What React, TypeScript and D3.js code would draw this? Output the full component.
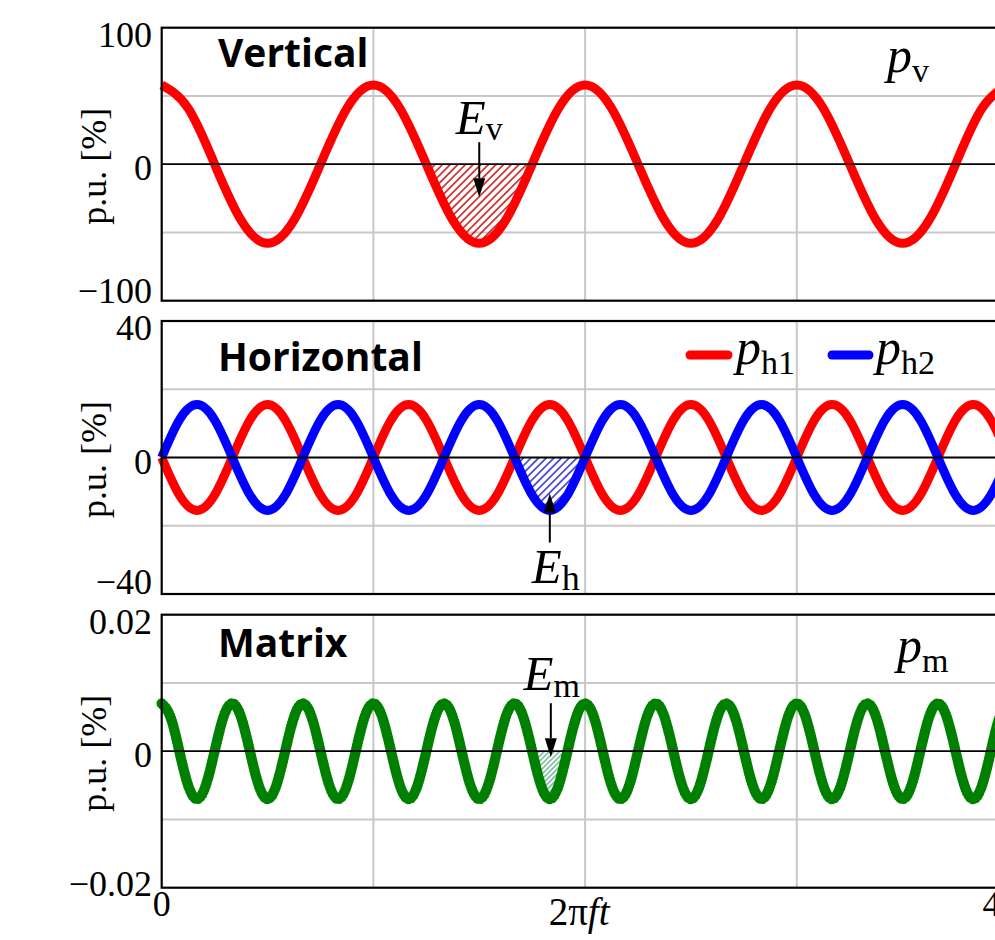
import React from 'react';
import * as d3 from 'd3';

// ---------- data ----------
// x axis: 2πft from 0 to 4π; samples every step·π
const X_MAX_PI = 4;
const xGridPi = [1, 2, 3];
const xTickLabels = ['0', '4π'];
const xTitle = '2πft';

// Vertical panel: p_v, sampled every π/8
const verticalStepPi = 1 / 8;
const verticalPv = [
  58, 41, 0, -41, -58, -41, 0, 41,
  58, 41, 0, -41, -58, -41, 0, 41,
  58, 41, 0, -41, -58, -41, 0, 41,
  58, 41, 0, -41, -58, -41, 0, 41,
  58,
];
const verticalTicks = [100, 0, -100];
const verticalTickLabels = ['100', '0', '−100'];
const verticalGrid = [50, -50];
const verticalLobePi = [1.25, 1.75];

// Horizontal panel: p_h1, p_h2, sampled every π/12
const horizontalStepPi = 1 / 12;
const horizontalPh1 = [
  0, -11, -15.5, -11, 0, 11, 15.5, 11,
  0, -11, -15.5, -11, 0, 11, 15.5, 11,
  0, -11, -15.5, -11, 0, 11, 15.5, 11,
  0, -11, -15.5, -11, 0, 11, 15.5, 11,
  0, -11, -15.5, -11, 0, 11, 15.5, 11,
  0, -11, -15.5, -11, 0, 11, 15.5, 11,
  0,
];
const horizontalPh2 = [
  0, 11, 15.5, 11, 0, -11, -15.5, -11,
  0, 11, 15.5, 11, 0, -11, -15.5, -11,
  0, 11, 15.5, 11, 0, -11, -15.5, -11,
  0, 11, 15.5, 11, 0, -11, -15.5, -11,
  0, 11, 15.5, 11, 0, -11, -15.5, -11,
  0, 11, 15.5, 11, 0, -11, -15.5, -11,
  0,
];
const horizontalTicks = [40, 0, -40];
const horizontalTickLabels = ['40', '0', '−40'];
const horizontalGrid = [20, -20];
const horizontalLobePi = [5 / 3, 2];

// Matrix panel: p_m, sampled every π/24
const matrixStepPi = 1 / 24;
const matrixPm = [
  0.007, 0.005, 0, -0.005, -0.007, -0.005, 0, 0.005,
  0.007, 0.005, 0, -0.005, -0.007, -0.005, 0, 0.005,
  0.007, 0.005, 0, -0.005, -0.007, -0.005, 0, 0.005,
  0.007, 0.005, 0, -0.005, -0.007, -0.005, 0, 0.005,
  0.007, 0.005, 0, -0.005, -0.007, -0.005, 0, 0.005,
  0.007, 0.005, 0, -0.005, -0.007, -0.005, 0, 0.005,
  0.007, 0.005, 0, -0.005, -0.007, -0.005, 0, 0.005,
  0.007, 0.005, 0, -0.005, -0.007, -0.005, 0, 0.005,
  0.007, 0.005, 0, -0.005, -0.007, -0.005, 0, 0.005,
  0.007, 0.005, 0, -0.005, -0.007, -0.005, 0, 0.005,
  0.007, 0.005, 0, -0.005, -0.007, -0.005, 0, 0.005,
  0.007, 0.005, 0, -0.005, -0.007, -0.005, 0, 0.005,
  0.007,
];
const matrixTicks = [0.02, 0, -0.02];
const matrixTickLabels = ['0.02', '0', '−0.02'];
const matrixGrid = [0.01, -0.01];
const matrixLobePi = [1.75, 1.75 + 1 / 6];

// ---------- layout ----------
const W = 995;
const H = 940;
const X_LEFT = 161.7;
const X_RIGHT = 1008.5;
const PANEL_H = 273;
const PANEL_TOPS = [27.7, 321, 614.7];
const SERIF = '"Liberation Serif", "Times New Roman", Times, serif';
const SANS = '"Open Sans", Lato, Arial, sans-serif';
const RED = '#ff0000';
const BLUE = '#0000ff';
const GREEN = '#008000';
const TICK_FS = 36;
const LINE_W = 9;

const xScale = d3.scaleLinear().domain([0, X_MAX_PI * Math.PI]).range([X_LEFT, X_RIGHT]);

function Arrow({ x, from, tip }: { x: number; from: number; tip: number }) {
  const dir = tip > from ? 1 : -1;
  const headLen = 19;
  const headW = 6;
  const base = tip - dir * headLen;
  return (
    <g>
      <line x1={x} x2={x} y1={from} y2={base} stroke="#000" strokeWidth={2} />
      <path d={`M${x},${tip} L${x - headW},${base} L${x + headW},${base} Z`} fill="#000" />
    </g>
  );
}

type PanelProps = {
  idx: number;
  domain: [number, number];
  ticks: number[];
  tickLabels: string[];
  grid: number[];
  title: string;
  titleDy: number;
  bottomLabelDy: number;
  render: (y: d3.ScaleLinear<number, number>, top: number, bottom: number) => React.ReactNode;
};

function Panel({ idx, domain, ticks, tickLabels, grid, title, titleDy, bottomLabelDy, render }: PanelProps) {
  const top = PANEL_TOPS[idx];
  const bottom = top + PANEL_H;
  const y = d3.scaleLinear().domain(domain).range([bottom, top]);
  const y0 = y(0);
  return (
    <g>
      {xGridPi.map((g) => (
        <line key={'vx' + g} x1={xScale(g * Math.PI)} x2={xScale(g * Math.PI)} y1={top} y2={bottom} stroke="#c8c8c8" strokeWidth={2} />
      ))}
      {grid.map((g) => (
        <line key={'hy' + g} x1={X_LEFT} x2={X_RIGHT} y1={y(g)} y2={y(g)} stroke="#c8c8c8" strokeWidth={2} />
      ))}
      {render(y, top, bottom)}
      <line x1={X_LEFT} x2={X_RIGHT} y1={y0} y2={y0} stroke="#000" strokeWidth={1.8} />
      <rect x={X_LEFT} y={top} width={X_RIGHT - X_LEFT} height={PANEL_H} fill="none" stroke="#000" strokeWidth={2.2} />
      {ticks.map((t, i) => {
        let by = y(t) + 16;
        if (i === 0) by = top + 19;
        if (i === ticks.length - 1) by = bottom + bottomLabelDy;
        return (
          <text key={'t' + i} x={152} y={by} textAnchor="end" fontFamily={SERIF} fontSize={TICK_FS} fill="#000">
            {tickLabels[i]}
          </text>
        );
      })}
      <text
        transform={`translate(106,${y0 + 2}) rotate(-90)`}
        textAnchor="middle"
        fontFamily={SERIF}
        fontSize={36}
        fill="#000"
      >
        p.u. [%]
      </text>
      <text x={218} y={top + titleDy} fontFamily={SANS} fontWeight={700} fontSize={39} fill="#000">
        {title}
      </text>
    </g>
  );
}

function seriesLine(step: number, y: d3.ScaleLinear<number, number>) {
  return d3
    .line<number>()
    .x((_, i) => xScale(i * step * Math.PI))
    .y((d) => y(d))
    .curve(d3.curveNatural);
}

function seriesArea(step: number, y: d3.ScaleLinear<number, number>) {
  return d3
    .area<number>()
    .x((_, i) => xScale(i * step * Math.PI))
    .y0(y(0))
    .y1((d) => y(d))
    .curve(d3.curveNatural);
}

function Sub({ main, sub, dy, mainSize = 49, subSize = 34 }: { main: string; sub: string; dy: number; mainSize?: number; subSize?: number }) {
  return (
    <>
      <tspan fontStyle="italic" fontSize={mainSize}>{main}</tspan>
      <tspan fontSize={subSize} dy={dy}>{sub}</tspan>
    </>
  );
}

export default function App() {
  return (
    <div style={{ position: 'absolute', left: 0, top: 0 }}>
      <svg width={W} height={H} viewBox={`0 0 ${W} ${H}`} style={{ display: 'block', background: '#fff' }}>
        <defs>
          <pattern id="hatchV" patternUnits="userSpaceOnUse" width={5.4} height={5.4} patternTransform="rotate(45)">
            <line x1={2.7} x2={2.7} y1={0} y2={5.4} stroke="#c00000" strokeWidth={1.4} />
          </pattern>
          <pattern id="hatchH" patternUnits="userSpaceOnUse" width={5.4} height={5.4} patternTransform="rotate(45)">
            <line x1={2.7} x2={2.7} y1={0} y2={5.4} stroke="#1c1cc8" strokeWidth={1.4} />
          </pattern>
          <pattern id="hatchM" patternUnits="userSpaceOnUse" width={3.6} height={3.6} patternTransform="rotate(45)">
            <line x1={1.8} x2={1.8} y1={0} y2={3.6} stroke="#3a9a6a" strokeWidth={1.1} />
          </pattern>
          {[verticalLobePi, horizontalLobePi, matrixLobePi].map((lobe, i) => (
            <clipPath key={i} id={'lobe' + i}>
              <rect
                x={xScale(lobe[0] * Math.PI)}
                y={PANEL_TOPS[i]}
                width={xScale(lobe[1] * Math.PI) - xScale(lobe[0] * Math.PI)}
                height={PANEL_H}
              />
            </clipPath>
          ))}
        </defs>

        <Panel
          idx={0}
          domain={[-100, 100]}
          ticks={verticalTicks}
          tickLabels={verticalTickLabels}
          grid={verticalGrid}
          title="Vertical"
          titleDy={39}
          bottomLabelDy={2}
          render={(y, top) => {
            const cx = xScale(((verticalLobePi[0] + verticalLobePi[1]) / 2) * Math.PI);
            return (
              <g>
                <path d={seriesArea(verticalStepPi, y)(verticalPv) || ''} fill="url(#hatchV)" clipPath="url(#lobe0)" />
                <path d={seriesLine(verticalStepPi, y)(verticalPv) || ''} fill="none" stroke={RED} strokeWidth={LINE_W} />
                <Arrow x={cx} from={y(0) - 22} tip={y(0) + 33} />
                <text x={cx} y={y(0) - 30} textAnchor="middle" fontFamily={SERIF} fill="#000">
                  <Sub main="E" sub="v" dy={6} />
                </text>
                <text x={887} y={top + 44} fontFamily={SERIF} fill="#000">
                  <Sub main="p" sub="v" dy={10} mainSize={50} />
                </text>
              </g>
            );
          }}
        />

        <Panel
          idx={1}
          domain={[-40, 40]}
          ticks={horizontalTicks}
          tickLabels={horizontalTickLabels}
          grid={horizontalGrid}
          title="Horizontal"
          titleDy={50}
          bottomLabelDy={0}
          render={(y, top) => {
            const cx = xScale(((horizontalLobePi[0] + horizontalLobePi[1]) / 2) * Math.PI);
            return (
              <g>
                <path d={seriesArea(horizontalStepPi, y)(horizontalPh2) || ''} fill="url(#hatchH)" clipPath="url(#lobe1)" />
                <path d={seriesLine(horizontalStepPi, y)(horizontalPh1) || ''} fill="none" stroke={RED} strokeWidth={LINE_W} />
                <path d={seriesLine(horizontalStepPi, y)(horizontalPh2) || ''} fill="none" stroke={BLUE} strokeWidth={LINE_W} />
                <Arrow x={cx} from={y(0) + 85} tip={y(0) + 36} />
                <text x={cx + 6} y={y(0) + 125.5} textAnchor="middle" fontFamily={SERIF} fill="#000">
                  <Sub main="E" sub="h" dy={7} subSize={36} />
                </text>
                <line x1={690} x2={728} y1={top + 34} y2={top + 34} stroke={RED} strokeWidth={LINE_W} strokeLinecap="round" />
                <text x={736} y={top + 43} fontFamily={SERIF} fill="#000">
                  <Sub main="p" sub="h1" dy={10} mainSize={50} />
                </text>
                <line x1={832} x2={869} y1={top + 34} y2={top + 34} stroke={BLUE} strokeWidth={LINE_W} strokeLinecap="round" />
                <text x={876} y={top + 43} fontFamily={SERIF} fill="#000">
                  <Sub main="p" sub="h2" dy={10} mainSize={50} />
                </text>
              </g>
            );
          }}
        />

        <Panel
          idx={2}
          domain={[-0.02, 0.02]}
          ticks={matrixTicks}
          tickLabels={matrixTickLabels}
          grid={matrixGrid}
          title="Matrix"
          titleDy={42.6}
          bottomLabelDy={8}
          render={(y, top) => {
            const cx = xScale(((matrixLobePi[0] + matrixLobePi[1]) / 2) * Math.PI);
            const d = seriesLine(matrixStepPi, y)(matrixPm) || '';
            return (
              <g>
                <path d={seriesArea(matrixStepPi, y)(matrixPm) || ''} fill="url(#hatchM)" clipPath="url(#lobe2)" />
                <path d={d} fill="none" stroke={GREEN} strokeWidth={8} />
                <path d={d} fill="none" stroke={GREEN} strokeWidth={10.5} strokeDasharray="0 3" strokeLinecap="round" />
                <Arrow x={cx + 1} from={y(0) - 48} tip={y(0) + 6} />
                <text x={cx + 2} y={y(0) - 61} textAnchor="middle" fontFamily={SERIF} fill="#000">
                  <Sub main="E" sub="m" dy={7} />
                </text>
                <text x={897} y={top + 47} fontFamily={SERIF} fill="#000">
                  <Sub main="p" sub="m" dy={10} mainSize={50} />
                </text>
              </g>
            );
          }}
        />

        <text x={xScale(0)} y={916} textAnchor="middle" fontFamily={SERIF} fontSize={TICK_FS} fill="#000">
          {xTickLabels[0]}
        </text>
        <text x={xScale(X_MAX_PI * Math.PI) - 8} y={916} textAnchor="middle" fontFamily={SERIF} fontSize={TICK_FS} fill="#000">
          {xTickLabels[1]}
        </text>
        <text x={xScale((X_MAX_PI / 2) * Math.PI) - 6} y={925} textAnchor="middle" fontFamily={SERIF} fontSize={39} fill="#000">
          <tspan>{xTitle.slice(0, 2)}</tspan>
          <tspan fontStyle="italic">{xTitle.slice(2)}</tspan>
        </text>
      </svg>
    </div>
  );
}
